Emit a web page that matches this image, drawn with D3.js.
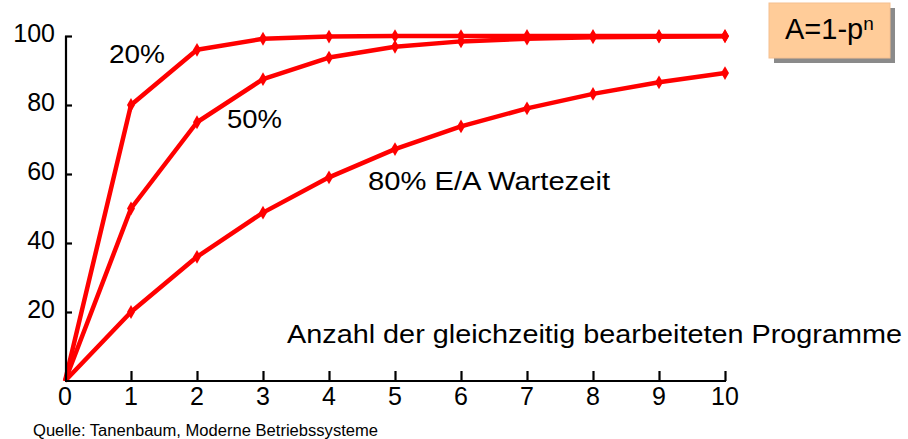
<!DOCTYPE html>
<html>
<head>
<meta charset="utf-8">
<script src="https://cdn.jsdelivr.net/npm/d3@7"></script>
<style>
  html, body { margin: 0; padding: 0; background: #fff; }
  svg { display: block; }
  text { font-family: "Liberation Sans", Arial, Helvetica, sans-serif; fill: #000; }
</style>
</head>
<body>
<svg id="chart" width="908" height="439"></svg>
<script>
// ---- data ----
const programs = [0, 1, 2, 3, 4, 5, 6, 7, 8, 9, 10];
const util20 = [0, 80, 96, 99.2, 99.84, 99.97, 99.99, 100, 100, 100, 100];
const util50 = [0, 50, 75, 87.5, 93.75, 96.88, 98.44, 99.22, 99.61, 99.8, 99.9];
const util80 = [0, 20, 36, 48.8, 59.04, 67.23, 73.79, 79.03, 83.22, 86.58, 89.26];
const seriesLabels = ["20%", "50%", "80% E/A Wartezeit"];
const xTicks = [0, 1, 2, 3, 4, 5, 6, 7, 8, 9, 10];
const yTicks = [20, 40, 60, 80, 100];
const xTitle = "Anzahl der gleichzeitig bearbeiteten Programme";
const source = "Quelle: Tanenbaum, Moderne Betriebssysteme";

const svg = d3.select("#chart");
const x = d3.scaleLinear().domain([0, 10]).range([65, 725]);
const y = d3.scaleLinear().domain([0, 100]).range([381, 36]);

const red = "#ff0000";
const series = [util20, util50, util80];

// lines
const line = d3.line().x((d, i) => x(programs[i])).y(d => y(d));
series.forEach(vals => {
  svg.append("path").attr("d", line(vals))
    .attr("fill", "none").attr("stroke", red)
    .attr("stroke-width", 4.5).attr("stroke-linejoin", "round");
  svg.append("g").selectAll("path").data(vals.slice(1)).join("path")
    .attr("d", d3.symbol(d3.symbolDiamond, 55)())
    .attr("transform", (d, i) => `translate(${x(programs[i + 1])},${y(d)})`)
    .attr("fill", red);
});

// axes
const xAxis = svg.append("g").attr("transform", `translate(0,${y(0)})`)
  .call(d3.axisTop(x).tickValues(xTicks.filter(v => v > 0)).tickSize(10).tickFormat(""));
xAxis.select(".domain").attr("d", `M${x(0)},0H${x(10) + 1}`);
xAxis.selectAll("path,line").attr("stroke", "#000").attr("stroke-width", 2.2);
svg.append("g").selectAll("text").data(xTicks).join("text")
  .attr("x", d => x(d)).attr("y", 405).attr("text-anchor", "middle")
  .attr("font-size", 25).text(d => d);

const yAxis = svg.append("g").attr("transform", `translate(${x(0) + 1},0)`)
  .call(d3.axisRight(y).tickValues(yTicks).tickSize(6).tickFormat(""));
yAxis.select(".domain").attr("d", `M0,${y(100)}V${y(0)}`);
yAxis.selectAll("path,line").attr("stroke", "#000").attr("stroke-width", 2.2);
yAxis.selectAll(".tick line").attr("x1", -1);
svg.append("g").selectAll("text").data(yTicks).join("text")
  .attr("x", 55).attr("y", d => y(d) + 6).attr("text-anchor", "end")
  .attr("font-size", 25).text(d => d);

// series labels
const labelPos = [[109, 63, 56], [227, 128, 55], [368, 190, 242]];
seriesLabels.forEach((t, i) => {
  svg.append("text").attr("x", labelPos[i][0]).attr("y", labelPos[i][1])
    .attr("font-size", 25).attr("textLength", labelPos[i][2])
    .attr("lengthAdjust", "spacingAndGlyphs").text(t);
});

// x title
svg.append("text").attr("x", 287).attr("y", 343).attr("font-size", 25)
  .attr("textLength", 615).attr("lengthAdjust", "spacingAndGlyphs").text(xTitle);

// source
svg.append("text").attr("x", 33).attr("y", 436).attr("font-size", 16)
  .attr("textLength", 345).attr("lengthAdjust", "spacingAndGlyphs").text(source);

// formula box
svg.append("rect").attr("x", 774).attr("y", 8).attr("width", 121).attr("height", 55).attr("fill", "#8a8a8a");
svg.append("rect").attr("x", 769).attr("y", 3).attr("width", 121).attr("height", 55)
  .attr("fill", "#ffcc99").attr("stroke", "#f5c090").attr("stroke-width", 1);
const ft = svg.append("text").attr("x", 785).attr("y", 39).attr("font-size", 29);
ft.append("tspan").text("A=1-p");
ft.append("tspan").attr("dy", -9).attr("font-size", 19).text("n");
</script>
</body>
</html>
